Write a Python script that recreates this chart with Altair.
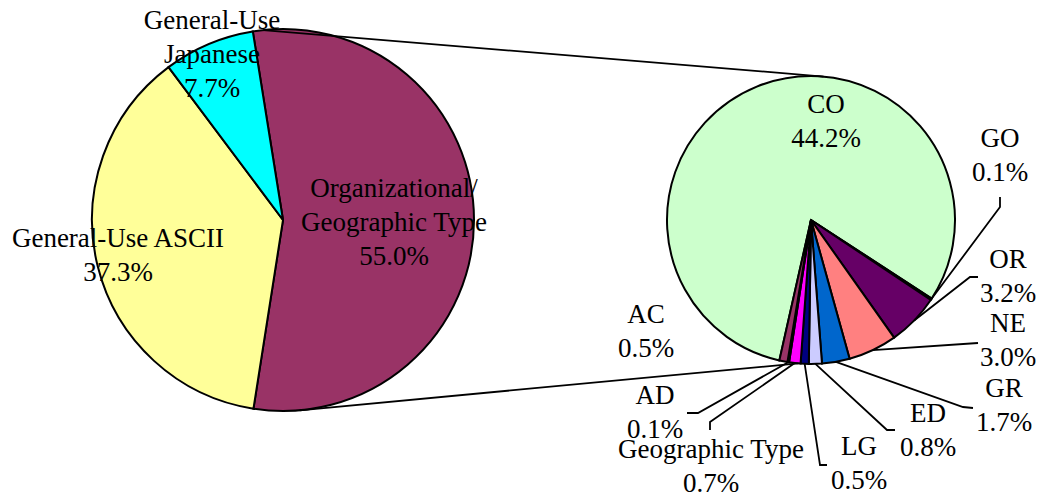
import math
import altair as alt
import pandas as pd

# ---- data ----
main_cats = ["Organizational/\nGeographic Type", "General-Use ASCII", "General-Use\nJapanese"]
main_vals = [55.0, 37.3, 7.7]
main_colors = ["#993366", "#FFFF99", "#00FFFF"]

sub_cats = ["CO", "GO", "OR", "NE", "GR", "ED", "LG", "Geographic Type", "AD", "AC"]
sub_vals = [44.2, 0.1, 3.2, 3.0, 1.7, 0.8, 0.5, 0.7, 0.1, 0.5]
sub_colors = ["#CCFFCC", "#800080", "#660066", "#FF8080", "#0066CC",
              "#CCCCFF", "#000080", "#FF00FF", "#800000", "#993366"]

# ---- layout (pixel coordinates of the page) ----
MAIN_C = (283, 220); MAIN_R = 191; MAIN_START = 350.9
SUB_C = (811, 220); SUB_R = 144; SUB_START = 192.7

main_label_pos = [(394, 197), (118, 247), (212, 29)]
sub_label_pos = [(826, 113), (1000, 147), (1008, 268), (1008, 332), (1004, 397),
                 (928, 422), (859, 455), (711, 458), (655, 404), (646, 323)]
# leader line start points near labels (None = no leader)
sub_leader_start = [None, [(1000, 197), (1000, 207)], [(978, 277), (970, 277)],
                    [(978, 343)], [(973, 408), (963, 407)], [(895, 430), (887, 430)],
                    [(827, 465), (820, 465)], [(710, 430), (710, 422)],
                    [(687, 413), (698, 413)], None]

FONT = "Liberation Serif"
FS = 27
LH = 34

xs = alt.Scale(domain=[8, 1036], nice=False, zero=False)
ys = alt.Scale(domain=[8, 494], nice=False, zero=False, reverse=True)


def pt(center, r, deg):
    a = math.radians(deg)
    return (center[0] + r * math.sin(a), center[1] - r * math.cos(a))


main_df = pd.DataFrame({
    "cat": main_cats, "val": main_vals, "color": main_colors,
    "order": list(range(len(main_cats))),
    "cx": [MAIN_C[0]] * 3, "cy": [MAIN_C[1]] * 3,
})
sub_df = pd.DataFrame({
    "cat": sub_cats, "val": sub_vals, "color": sub_colors,
    "order": list(range(len(sub_cats))),
    "cx": [SUB_C[0]] * len(sub_cats), "cy": [SUB_C[1]] * len(sub_cats),
})


def arc_layer(df, r, start_deg):
    a0 = math.radians(start_deg)
    return alt.Chart(df).mark_arc(radius=r, stroke="black", strokeWidth=2).encode(
        theta=alt.Theta("val:Q", stack=True, scale=alt.Scale(range=[a0, a0 + 2 * math.pi])),
        order=alt.Order("order:Q"),
        color=alt.Color("color:N", scale=None),
        x=alt.X("cx:Q", scale=xs, axis=None),
        y=alt.Y("cy:Q", scale=ys, axis=None),
    )


main_arc = arc_layer(main_df, MAIN_R, MAIN_START)
sub_arc = arc_layer(sub_df, SUB_R, SUB_START)

# connector lines between the pies
rows = []
for cid, (ma, sa) in enumerate([(354, 5), (175, 185)]):
    p1 = pt(MAIN_C, MAIN_R, ma)
    p2 = pt(SUB_C, SUB_R, sa)
    rows.append({"id": f"c{cid}", "i": 0, "x": p1[0], "y": p1[1]})
    rows.append({"id": f"c{cid}", "i": 1, "x": p2[0], "y": p2[1]})

# leader lines to the slice mid angles
total = sum(sub_vals)
cum = 0.0
for k, (c, v) in enumerate(zip(sub_cats, sub_vals)):
    mid = SUB_START + (cum + v / 2) / total * 360
    cum += v
    starts = sub_leader_start[k]
    if not starts:
        continue
    pts = list(starts) + [pt(SUB_C, SUB_R, mid)]
    for i, (x, y) in enumerate(pts):
        rows.append({"id": f"l{k}", "i": i, "x": x, "y": y})
lines_df = pd.DataFrame(rows)

lines = alt.Chart(lines_df).mark_line(color="black", strokeWidth=1.8).encode(
    x=alt.X("x:Q", scale=xs, axis=None),
    y=alt.Y("y:Q", scale=ys, axis=None),
    detail="id:N",
    order=alt.Order("i:Q"),
)

# labels
lab_rows = []
for c, v, (x, y) in zip(main_cats, main_vals, main_label_pos):
    lab_rows.append({"text": f"{c}\n{v:.1f}%", "x": x, "y": y})
for c, v, (x, y) in zip(sub_cats, sub_vals, sub_label_pos):
    lab_rows.append({"text": f"{c}\n{v:.1f}%", "x": x, "y": y})
lab_df = pd.DataFrame(lab_rows)

labels = alt.Chart(lab_df).mark_text(
    font=FONT, fontSize=FS, color="black", align="center", baseline="alphabetic",
    lineBreak="\n", lineHeight=LH,
).encode(
    x=alt.X("x:Q", scale=xs, axis=None),
    y=alt.Y("y:Q", scale=ys, axis=None),
    text="text:N",
)

chart = alt.layer(main_arc, sub_arc, lines, labels).resolve_scale(
    theta="independent"
).properties(
    width=1028, height=486, padding=0, autosize="none"
).configure_view(stroke=None)

chart.save("out.html", embed_options={"renderer": "svg", "actions": False})
